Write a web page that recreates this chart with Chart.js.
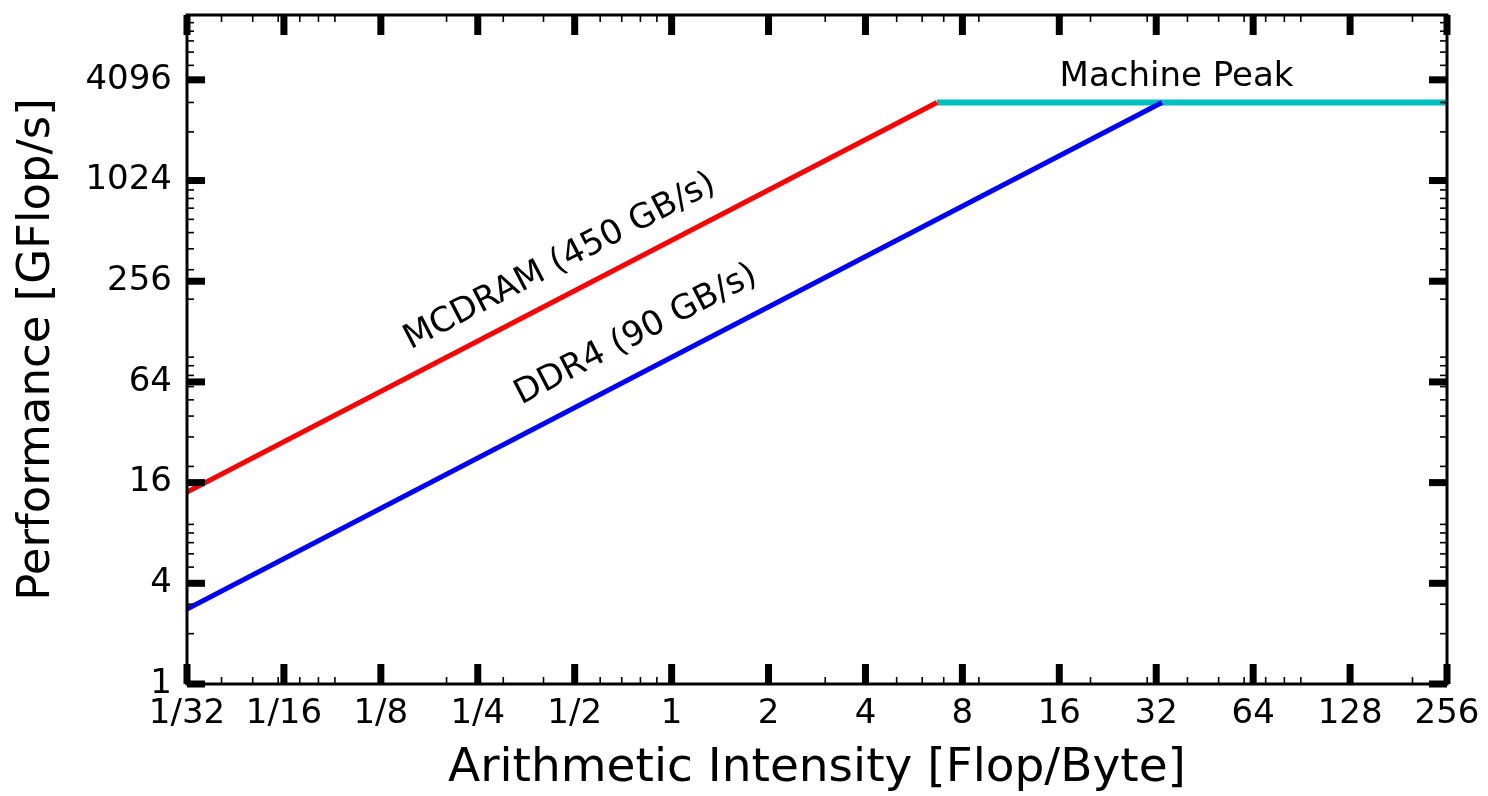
<!DOCTYPE html>
<html><head><meta charset="utf-8">
<script src="https://cdn.jsdelivr.net/npm/chart.js@4/dist/chart.umd.min.js"></script>
<style>html,body{margin:0;padding:0;background:#fff;overflow:hidden}#wrap{width:1488px;height:796px}</style>
</head><body><div id="wrap"><canvas id="c" width="1488" height="796"></canvas></div>
<script>
// ---- data ----
const xTicks = [1/32, 1/16, 1/8, 1/4, 1/2, 1, 2, 4, 8, 16, 32, 64, 128, 256];
const xTickLabels = ['1/32','1/16','1/8','1/4','1/2','1','2','4','8','16','32','64','128','256'];
const yTicks = [1, 4, 16, 64, 256, 1024, 4096];
const yTickLabels = ['1','4','16','64','256','1024','4096'];
const mcdramX = [1/32, 6.667];
const mcdramY = [14.06, 3000];
const ddr4X = [1/32, 33.33];
const ddr4Y = [2.81, 3000];
const peakX = [6.667, 256];
const peakY = [3000, 3000];
const annTexts = ['MCDRAM (450 GB/s)', 'DDR4 (90 GB/s)', 'Machine Peak'];
const annX = [0.45, 0.775, 37];
const annY = [334, 122, 4270];
const minorSubs = [2,3,4,5,6,7,8,9];
const decades = [0.01, 0.1, 1, 10, 100, 1000];

const FONT = '"DejaVu Sans", sans-serif';
const pts = (xs, ys) => xs.map((x, i) => ({x: x, y: ys[i]}));
const minorVals = [];
decades.forEach(d => minorSubs.forEach(s => minorVals.push(s * d)));

const framePlugin = {
  id: 'frame',
  afterDatasetsDraw(chart) {
    const {ctx, chartArea: a, scales: {x, y}} = chart;
    ctx.save();
    ctx.fillStyle = '#000';
    minorVals.forEach(v => {
      if (v > x.min && v < x.max) {
        const px = x.getPixelForValue(v);
        ctx.fillRect(px - 0.8, a.bottom - 7, 1.6, 7);
        ctx.fillRect(px - 0.8, a.top, 1.6, 7);
      }
      if (v > y.min && v < y.max) {
        const py = y.getPixelForValue(v);
        ctx.fillRect(a.left, py - 0.8, 7, 1.6);
        ctx.fillRect(a.right - 7, py - 0.8, 7, 1.6);
      }
    });
    xTicks.forEach(v => {
      const px = x.getPixelForValue(v);
      ctx.fillRect(px - 3.5, a.bottom - 20, 7, 20);
      ctx.fillRect(px - 3.5, a.top, 7, 20);
    });
    yTicks.forEach(v => {
      const py = y.getPixelForValue(v);
      ctx.fillRect(a.left, py - 3.5, 18, 7);
      ctx.fillRect(a.right - 18, py - 3.5, 18, 7);
    });
    ctx.strokeStyle = '#000';
    ctx.lineWidth = 3;
    ctx.strokeRect(a.left, a.top, a.right - a.left, a.bottom - a.top);
    const ang = Math.atan2(y.getPixelForValue(450 * 8) - y.getPixelForValue(450),
                           x.getPixelForValue(8) - x.getPixelForValue(1));
    ctx.font = '34px ' + FONT;
    ctx.textAlign = 'center';
    ctx.textBaseline = 'middle';
    annTexts.forEach((t, i) => {
      ctx.save();
      ctx.translate(x.getPixelForValue(annX[i]), y.getPixelForValue(annY[i]));
      if (i < 2) ctx.rotate(ang);
      ctx.fillText(t, 0, 0);
      ctx.restore();
    });
    ctx.restore();
  }
};

const lab = (vals, labs) => (v) => {
  let best = 0;
  vals.forEach((t, i) => { if (Math.abs(Math.log(t) - Math.log(v)) < Math.abs(Math.log(vals[best]) - Math.log(v))) best = i; });
  return labs[best];
};

new Chart(document.getElementById('c'), {
  type: 'line',
  data: {
    datasets: [
      {data: pts(mcdramX, mcdramY), borderColor: '#ff0000', borderWidth: 5, pointRadius: 0, tension: 0, fill: false},
      {data: pts(ddr4X, ddr4Y), borderColor: '#0000ff', borderWidth: 5, pointRadius: 0, tension: 0, fill: false},
      {data: pts(peakX, peakY), borderColor: '#00bfbf', borderWidth: 6, pointRadius: 0, tension: 0, fill: false}
    ]
  },
  options: {
    responsive: false,
    animation: false,
    events: [],
    layout: {padding: {left: 0, right: 41, top: 15, bottom: 0}},
    plugins: {legend: {display: false}, tooltip: {enabled: false}},
    scales: {
      x: {
        type: 'logarithmic', min: 1/32, max: 256,
        afterBuildTicks: s => { s.ticks = xTicks.map(v => ({value: v})); },
        afterFit: s => { s.height = 112; s.paddingLeft = 0; s.paddingRight = 0; },
        grid: {display: false, drawTicks: false},
        border: {display: false},
        ticks: {autoSkip: false, maxRotation: 0, minRotation: 0, padding: 10, color: '#000',
                font: {family: FONT, size: 34}, callback: lab(xTicks, xTickLabels)},
        title: {display: true, text: 'Arithmetic Intensity [Flop/Byte]', color: '#000',
                font: {family: FONT, size: 47, lineHeight: 1}, padding: {top: 0, bottom: 4}}
      },
      y: {
        type: 'logarithmic', min: 1, max: 10000,
        afterBuildTicks: s => { s.ticks = yTicks.map(v => ({value: v})); },
        afterFit: s => { s.width = 187; s.paddingTop = 0; s.paddingBottom = 0; },
        grid: {display: false, drawTicks: false},
        border: {display: false},
        ticks: {autoSkip: false, padding: 15, color: '#000',
                font: {family: FONT, size: 34}, callback: lab(yTicks, yTickLabels)},
        title: {display: true, text: 'Performance [GFlop/s]', color: '#000',
                font: {family: FONT, size: 45, lineHeight: 1}, padding: {top: 15, bottom: 0}}
      }
    }
  },
  plugins: [framePlugin]
});
</script>
</body></html>
